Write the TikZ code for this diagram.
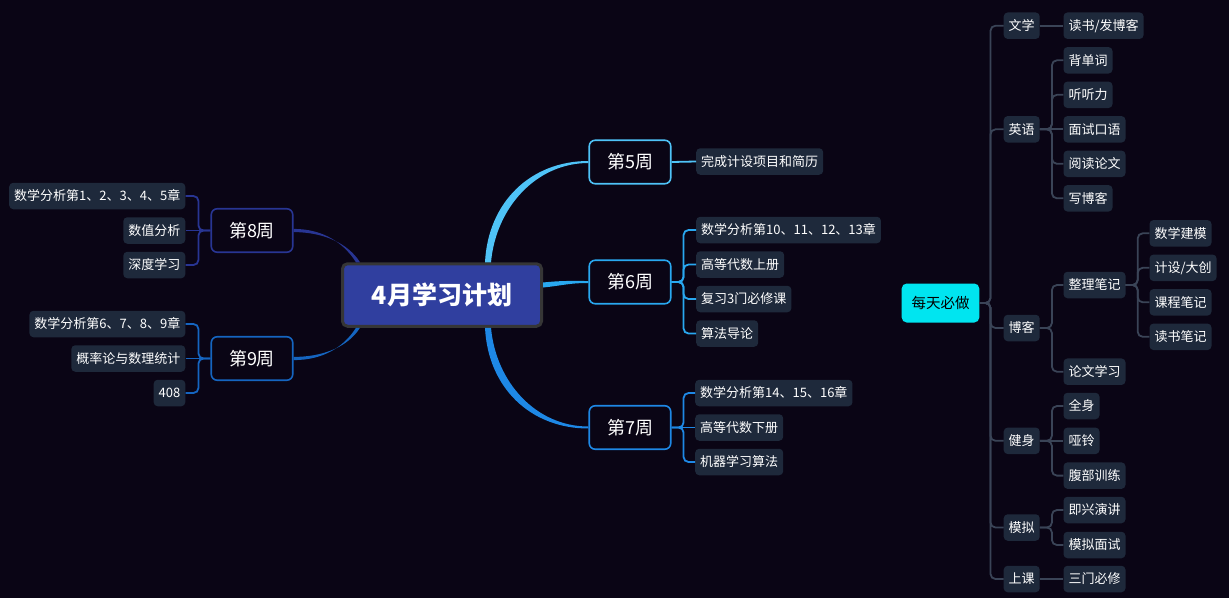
\documentclass[tikz,border=0pt]{standalone}
\usepackage{fontspec}
\setmainfont{Noto Sans CJK SC}
\definecolor{bgdark}{HTML}{0A0515}
\definecolor{leafbg}{HTML}{1E293B}
\definecolor{rootfill}{HTML}{303F9F}
\definecolor{rootline}{HTML}{363636}
\definecolor{daily}{HTML}{00E5F0}
\definecolor{grayline}{HTML}{3A4457}
\definecolor{wkfive}{HTML}{4FC3F7}
\definecolor{wksix}{HTML}{29A8F0}
\definecolor{wkseven}{HTML}{1E88E5}
\definecolor{wkeight}{HTML}{283593}
\definecolor{wknine}{HTML}{1565C0}

\tikzset{
	leaf/.style={fill=leafbg, text=white, rounded corners=4pt, inner xsep=5pt, inner ysep=0pt,
		minimum height=26.5pt, text height=11pt, text depth=1.5pt, font=\fontsize{13}{13}\selectfont},
	week/.style={draw=#1, line width=1.6pt, fill=bgdark, text=white, rounded corners=6pt,
		minimum width=81.5pt, minimum height=43.5pt, text height=15pt, text depth=1.5pt,
		font=\fontsize{18}{18}\selectfont},
	link/.style={draw=#1, line width=1.8pt, rounded corners=5pt},
}

\begin{document}
\begin{tikzpicture}[x=1pt,y=-1pt]
	\useasboundingbox (0,0) rectangle (1229,598);
	\fill[bgdark] (0,0) rectangle (1229,598);

	\node[draw=rootline, line width=3pt, fill=rootfill, text=white, rounded corners=5pt,
		minimum width=199pt, minimum height=62.5pt, text height=21pt, text depth=1.8pt,
		font=\fontsize{25}{25}\selectfont\bfseries] (plan) at (442,295) {4月学习计划};

	\node[week=wkfive]  (w5) at (630,162) {第5周};
	\node[week=wksix]   (w6) at (630,282) {第6周};
	\node[week=wkseven] (w7) at (630,427.5) {第7周};
	\node[week=wkeight] (w8) at (252,230.5) {第8周};
	\node[week=wknine]  (w9) at (252,358.5) {第9周};

	% root to weeks
	\fill[wkfive] ([xshift=43pt]plan.north) .. controls +(3,-60) and +(-58,0) .. ([yshift=1pt]w5.west)
		-- ([yshift=-1pt]w5.west) .. controls +(-52,0) and +(5,-55) .. ([xshift=49pt]plan.north) -- cycle;
	\fill[wksix] ([yshift=12.5pt]plan.east) .. controls +(20,-2) and +(-20,0) .. ([yshift=1pt]w6.west)
		-- ([yshift=-1pt]w6.west) .. controls +(-20,0) and +(20,-2) .. ([yshift=7.5pt]plan.east) -- cycle;
	\fill[wkseven] ([xshift=43pt]plan.south) .. controls +(3,60) and +(-58,0) .. ([yshift=-1pt]w7.west)
		-- ([yshift=1pt]w7.west) .. controls +(-52,0) and +(5,55) .. ([xshift=49pt]plan.south) -- cycle;
	\fill[wkeight] ([xshift=-82pt]plan.north) .. controls +(-12,-19) and +(30,0) .. ([yshift=-1.6pt]w8.east)
		-- ([yshift=1.6pt]w8.east) .. controls +(30,0) and +(-12,-19) .. ([xshift=-86pt]plan.north) -- cycle;
	\fill[wknine] ([xshift=-82pt]plan.south) .. controls +(-12,19) and +(30,0) .. ([yshift=1.6pt]w9.east)
		-- ([yshift=-1.6pt]w9.east) .. controls +(30,0) and +(-12,19) .. ([xshift=-86pt]plan.south) -- cycle;

	% week 5, 6, 7
	\node[leaf, anchor=west] (w51) at (696,161.5) {完成计设项目和简历};
	\draw[link=wkfive] (w5.east) -- (w51.west);
	\foreach \t [count=\i] in {数学分析第10、11、12、13章, 高等代数上册, 复习3门必修课, 算法导论} {
		\node[leaf, anchor=west] (w6\i) at (696,{230+34.5*(\i-1)}) {\t};
		\draw[link=wksix] (w6.east) -- ++(12,0) |- (w6\i.west);
	}
	\foreach \t [count=\i] in {数学分析第14、15、16章, 高等代数下册, 机器学习算法}
		\node[leaf, anchor=west] (w7\i) at (695,{393+34.5*(\i-1)}) {\t};
	\foreach \i in {1,3}
		\draw[link=wkseven] (w7.east) -- ++(12,0) |- (w7\i.west);
	\draw[link=wkseven] (w7.east) -- (w72.west);

	% week 8, 9
	\foreach \t [count=\i] in {数学分析第1、2、3、4、5章, 数值分析, 深度学习}
		\node[leaf, anchor=east] (w8\i) at (185.5,{196+34.5*(\i-1)}) {\t};
	\foreach \t [count=\i] in {数学分析第6、7、8、9章, 概率论与数理统计, 408}
		\node[leaf, anchor=east] (w9\i) at (185.5,{324+34.5*(\i-1)}) {\t};
	\foreach \i in {1,3} {
		\draw[link=wkeight] (w8.west) -- ++(-12,0) |- (w8\i.east);
		\draw[link=wknine] (w9.west) -- ++(-12,0) |- (w9\i.east);
	}
	\draw[link=wkeight] (w8.west) -- (w82.east);
	\draw[link=wknine] (w9.west) -- (w92.east);

	% daily
	\node[fill=daily, text=black, rounded corners=5pt, minimum width=77.6pt, minimum height=39pt,
		text height=12.5pt, text depth=1.5pt, font=\fontsize{14.5}{14.5}\selectfont] (daily) at (940.5,303) {每天必做};
	\foreach \t/\y/\n in {文学/25.7/lit, 英语/129.3/eng, 博客/328/blog, 健身/440.8/gym, 模拟/527.5/mock, 上课/579/class} {
		\node[leaf, anchor=west] (\n) at (1003.5,\y) {\t};
		\draw[link=grayline] (daily.east) -- ++(11,0) |- (\n.west);
	}

	\node[leaf, anchor=west] (lit1) at (1063.3,25.7) {读书/发博客};
	\draw[link=grayline] (lit.east) -- (lit1.west);
	\foreach \t [count=\i] in {背单词, 听听力, 面试口语, 阅读论文, 写博客}
		\node[leaf, anchor=west] (eng\i) at (1063.3,{60.3+34.5*(\i-1)}) {\t};
	\foreach \i in {1,2,4,5}
		\draw[link=grayline] (eng.east) -- ++(12,0) |- (eng\i.west);
	\draw[link=grayline] (eng.east) -- (eng3.west);
	\node[leaf, anchor=west] (blog1) at (1063.3,285) {整理笔记};
	\node[leaf, anchor=west] (blog2) at (1063.3,371.7) {论文学习};
	\foreach \i in {1,2}
		\draw[link=grayline] (blog.east) -- ++(12,0) |- (blog\i.west);
	\foreach \t [count=\i] in {数学建模, 计设/大创, 课程笔记, 读书笔记} {
		\node[leaf, anchor=west] (note\i) at (1149.3,{233.3+34.5*(\i-1)}) {\t};
		\draw[link=grayline] (blog1.east) -- ++(12,0) |- (note\i.west);
	}
	\foreach \t [count=\i] in {全身, 哑铃, 腹部训练}
		\node[leaf, anchor=west] (gym\i) at (1063.3,{406+34.8*(\i-1)}) {\t};
	\foreach \i in {1,3}
		\draw[link=grayline] (gym.east) -- ++(12,0) |- (gym\i.west);
	\draw[link=grayline] (gym.east) -- (gym2.west);
	\foreach \t [count=\i] in {即兴演讲, 模拟面试} {
		\node[leaf, anchor=west] (mock\i) at (1063.3,{510+35*(\i-1)}) {\t};
		\draw[link=grayline] (mock.east) -- ++(12,0) |- (mock\i.west);
	}
	\node[leaf, anchor=west] (class1) at (1063.3,579) {三门必修};
	\draw[link=grayline] (class.east) -- (class1.west);
\end{tikzpicture}
\end{document}
